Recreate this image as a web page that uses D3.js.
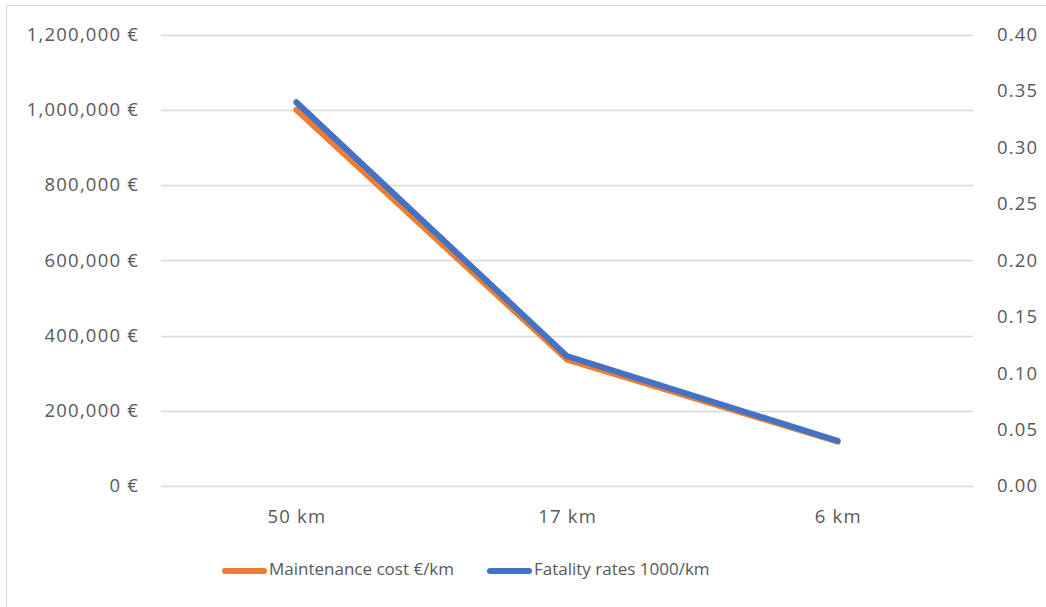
<!DOCTYPE html>
<html><head><meta charset="utf-8">
<script src="https://cdn.jsdelivr.net/npm/d3@7"></script>
<style>body{margin:0;background:#fff}svg{display:block}text{font-family:"Open Sans",sans-serif;fill:#595959}</style>
</head><body>
<script>
const categories = ["50 km", "17 km", "6 km"];
const maintenanceCost = [1000000, 336000, 118000];
const fatalityRates = [0.34, 0.115, 0.04];
const leftTicks = [0, 200000, 400000, 600000, 800000, 1000000, 1200000];
const rightTicks = [0, 0.05, 0.10, 0.15, 0.20, 0.25, 0.30, 0.35, 0.40];
const seriesNames = ["Maintenance cost €/km", "Fatality rates 1000/km"];
const colors = ["#ED7D31", "#4472C4"];

const W = 1046, H = 607;
const svg = d3.select("body").append("svg").attr("width", W).attr("height", H);
svg.append("rect").attr("x", 6.5).attr("y", 5.5).attr("width", W - 6).attr("height", H - 5 + 2)
  .attr("fill", "#fff").attr("stroke", "#d9d9d9").attr("stroke-width", 1);

const x0 = 161, x1 = 973, yTop = 34.5, yBot = 486;
const x = d3.scaleBand().domain(categories).range([x0, x1]);
const yL = d3.scaleLinear().domain([0, 1200000]).range([yBot, yTop]);
const yR = d3.scaleLinear().domain([0, 0.4]).range([yBot, yTop]);

svg.append("g").selectAll("line").data(leftTicks).join("line")
  .attr("x1", x0).attr("x2", x1).attr("y1", d => Math.round(yL(d)) + 0.5).attr("y2", d => Math.round(yL(d)) + 0.5)
  .attr("stroke", "#d9d9d9").attr("stroke-width", 1.3);

const fmt = d3.format(",");
const lAxis = d3.axisLeft(yL).tickValues(leftTicks).tickSize(0).tickPadding(0).tickFormat(d => fmt(d) + " €");
const gl = svg.append("g").attr("transform", `translate(139,0)`).call(lAxis);
const rAxis = d3.axisRight(yR).tickValues(rightTicks).tickSize(0).tickPadding(0).tickFormat(d3.format(".2f"));
const gr = svg.append("g").attr("transform", `translate(997,0)`).call(rAxis);
const bAxis = d3.axisBottom(x).tickSize(0).tickPadding(0);
const gb = svg.append("g").attr("transform", `translate(0.6,${yBot + 20})`).call(bAxis);
[gl, gr, gb].forEach(g => {
  g.attr("font-size", null).attr("font-family", null);
  g.select(".domain").remove();
  g.selectAll("text").style("font-size", "18.5px").style("letter-spacing", "1.2px")
    .style("font-family", "'Open Sans',sans-serif").style("fill", "#595959");
});
gb.selectAll("text").attr("dy", "0.9em");

const cx = d => x(d) + x.bandwidth() / 2;
const lineL = d3.line().x((d, i) => cx(categories[i])).y(d => yL(d));
const lineR = d3.line().x((d, i) => cx(categories[i])).y(d => yR(d));
svg.append("path").attr("d", lineL(maintenanceCost)).attr("fill", "none").attr("stroke", colors[0])
  .attr("stroke-width", 6).attr("stroke-linecap", "round").attr("stroke-linejoin", "round");
svg.append("path").attr("d", lineR(fatalityRates)).attr("fill", "none").attr("stroke", colors[1])
  .attr("stroke-width", 6).attr("stroke-linecap", "round").attr("stroke-linejoin", "round");

const legX = [225, 490];
const legY = 571;
seriesNames.forEach((n, i) => {
  svg.append("line").attr("x1", legX[i]).attr("x2", legX[i] + 39).attr("y1", legY).attr("y2", legY)
    .attr("stroke", colors[i]).attr("stroke-width", 6).attr("stroke-linecap", "round");
  svg.append("text").attr("x", legX[i] + 44).attr("y", legY - 1.5).attr("dy", "0.35em").style("font-size", "17px").text(n);
});
</script>
</body></html>
